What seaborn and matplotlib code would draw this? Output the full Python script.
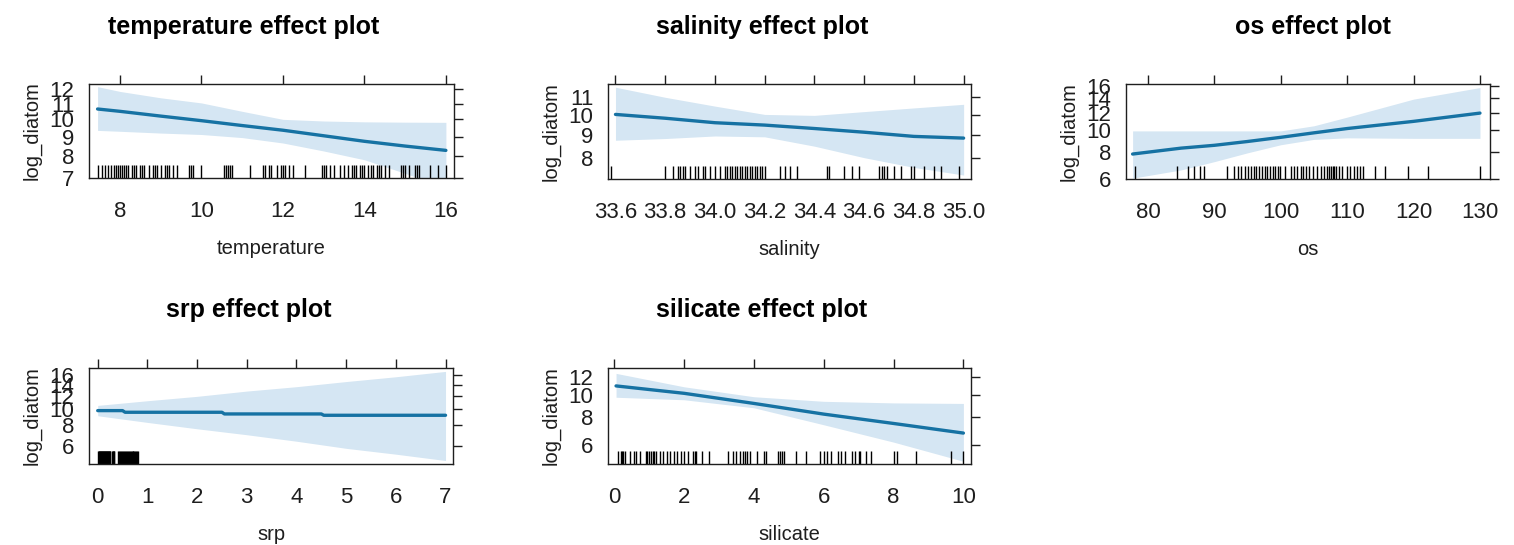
import numpy as np
import pandas as pd
import seaborn as sns
import matplotlib.pyplot as plt
from matplotlib.ticker import FixedFormatter, NullLocator

# effect curves (x grid, fit, lower / upper band)
temperature_x = [7.45, 8, 9, 10, 11, 12, 13, 14, 15, 16]
temperature_fit = [10.65, 10.5, 10.2, 9.92, 9.63, 9.36, 9.05, 8.75, 8.5, 8.28]
temperature_lower = [9.35, 9.3, 9.2, 9.12, 8.95, 8.66, 8.25, 7.82, 7.2, 6.6]
temperature_upper = [12.2, 11.85, 11.4, 11.05, 10.5, 10.0, 9.9, 9.85, 9.83, 9.82]
temperature_rug = [7.45, 7.55, 7.62, 7.7, 7.78, 7.85, 7.9, 7.95, 8.0, 8.05, 8.1, 8.15,
                   8.2, 8.3, 8.35, 8.4, 8.5, 8.55, 8.6, 8.7, 8.8, 8.85, 8.9, 9.0, 9.1,
                   9.15, 9.2, 9.3, 9.4, 9.7, 9.75, 9.8, 10.0, 10.55, 10.6, 10.65, 10.7,
                   10.75, 11.2, 11.5, 11.55, 11.65, 11.7, 11.85, 11.95, 12.0, 12.05,
                   12.15, 12.25, 12.55, 12.95, 13.0, 13.05, 13.15, 13.25, 13.4, 13.5,
                   13.6, 13.7, 13.75, 13.8, 13.9, 13.95, 14.0, 14.1, 14.15, 14.2, 14.3,
                   14.35, 14.4, 14.5, 14.6, 14.9, 14.95, 15.0, 15.1, 15.25, 15.3, 15.35,
                   15.6, 15.8, 16.0]

salinity_x = [33.6, 33.8, 34.0, 34.2, 34.4, 34.6, 34.8, 35.0]
salinity_fit = [10.05, 9.85, 9.62, 9.5, 9.33, 9.15, 8.95, 8.87]
salinity_lower = [8.77, 8.85, 8.97, 8.93, 8.5, 8.0, 7.6, 7.3]
salinity_upper = [11.6, 11.0, 10.5, 10.05, 10.0, 10.2, 10.4, 10.6]
salinity_rug = [33.58, 33.8, 33.83, 33.85, 33.86, 33.87, 33.88, 33.9, 33.92, 33.93,
                33.95, 33.96, 33.98, 34.0, 34.02, 34.04, 34.05, 34.06, 34.07, 34.08,
                34.09, 34.1, 34.11, 34.12, 34.13, 34.14, 34.15, 34.16, 34.17, 34.18,
                34.19, 34.2, 34.26, 34.28, 34.3, 34.33, 34.45, 34.46, 34.52, 34.55,
                34.58, 34.66, 34.67, 34.68, 34.69, 34.72, 34.75, 34.79, 34.8, 34.84,
                34.88, 34.91, 34.98]

os_x = [77.7, 85, 90, 95, 100, 105, 110, 120, 130]
os_fit = [7.8, 8.3, 8.55, 8.9, 9.3, 9.75, 10.2, 11.0, 12.0]
os_lower = [6.05, 6.6, 7.2, 7.9, 8.6, 9.1, 9.25, 9.2, 9.2]
os_upper = [9.95, 9.95, 9.95, 9.95, 9.95, 10.5, 11.5, 13.9, 15.7]
os_rug = [78.1, 84.4, 86.0, 86.9, 87.8, 88.5, 91.9, 93.0, 93.5, 94.0, 94.6, 95.0,
          95.5, 96.0, 96.3, 96.8, 97.2, 97.6, 98.0, 98.4, 98.8, 99.2, 99.6, 99.9,
          100.7, 101.5, 102.0, 102.5, 103.0, 103.4, 103.8, 104.2, 104.8, 105.5,
          106.0, 106.5, 107.0, 107.2, 107.5, 107.8, 108.0, 108.3, 108.8, 109.2,
          110.0, 110.5, 111.0, 111.5, 112.0, 112.4, 114.2, 115.7, 119.2, 122.2, 130.0]

srp_x = [0, 0.5, 0.55, 2.5, 2.55, 4.5, 4.55, 7.0]
srp_fit = [9.77, 9.77, 9.55, 9.55, 9.33, 9.33, 9.16, 9.16]
srp_band_x = [0, 1, 2, 3, 4, 5, 6, 7]
srp_lower = [9.1, 8.3, 7.6, 7.0, 6.4, 5.8, 5.35, 4.9]
srp_upper = [10.5, 11.2, 11.9, 12.8, 13.6, 14.6, 15.6, 16.8]
srp_rug = [0.01, 0.02, 0.03, 0.04, 0.05, 0.06, 0.07, 0.08, 0.09, 0.1, 0.11, 0.12,
           0.13, 0.14, 0.15, 0.16, 0.17, 0.18, 0.19, 0.2, 0.21, 0.22, 0.23, 0.24,
           0.25, 0.29, 0.3, 0.31, 0.32, 0.33, 0.41, 0.42, 0.44, 0.46, 0.48, 0.5,
           0.52, 0.54, 0.56, 0.58, 0.6, 0.62, 0.64, 0.66, 0.68, 0.7, 0.72, 0.74,
           0.76, 0.78, 0.8, 0.82]

silicate_x = [0.05, 2, 4, 6, 8, 10]
silicate_fit = [11.0, 10.2, 9.2, 8.25, 7.5, 6.8]
silicate_lower = [9.8, 9.55, 8.8, 7.4, 6.2, 5.1]
silicate_upper = [12.5, 10.9, 9.85, 9.4, 9.25, 9.2]
silicate_rug = [0.12, 0.18, 0.22, 0.26, 0.3, 0.45, 0.55, 0.62, 0.75, 0.9, 0.95, 1.0,
                1.05, 1.1, 1.15, 1.2, 1.3, 1.4, 1.5, 1.6, 1.7, 1.8, 1.9, 2.0, 2.1,
                2.25, 2.3, 2.35, 2.5, 2.7, 3.25, 3.4, 3.5, 3.6, 3.7, 3.75, 3.8, 3.9,
                4.1, 4.3, 4.35, 4.7, 4.75, 4.8, 4.85, 5.2, 5.5, 5.9, 6.0, 6.1, 6.2,
                6.4, 6.5, 6.6, 6.8, 6.9, 7.0, 7.05, 7.2, 7.35, 8.0, 8.1, 8.65, 9.65,
                10.0]

sns.set_style('white')
plt.rcParams['font.family'] = ['Liberation Sans', 'DejaVu Sans']

line_col = '#1672a3'
band_col = '#d5e6f3'
ink = '#1e1e1e'

fig = plt.figure(figsize=(15.14, 5.45), dpi=100)

panels = [
    # name, x, fit, band x, lower, upper, rug, xlim, ylim, xticks, yticks, rect, title xy
    ('temperature', temperature_x, temperature_fit, temperature_x, temperature_lower,
     temperature_upper, temperature_rug, (7.24, 16.2), (7.0, 12.4),
     [8, 10, 12, 14, 16], [7, 8, 9, 10, 11, 12], [0.0588, 0.6734, 0.2411, 0.1725], (244, 27)),
    ('salinity', salinity_x, salinity_fit, salinity_x, salinity_lower, salinity_upper,
     salinity_rug, (33.57, 35.03), (7.15, 11.8),
     [33.6, 33.8, 34.0, 34.2, 34.4, 34.6, 34.8, 35.0], [8, 9, 10, 11],
     [0.4016, 0.6716, 0.2398, 0.1743], (762, 27)),
    ('os', os_x, os_fit, os_x, os_lower, os_upper, os_rug, (76.7, 131.5), (6.0, 16.3),
     [80, 90, 100, 110, 120, 130], [6, 8, 10, 12, 14, 16],
     [0.7437, 0.6716, 0.2404, 0.1743], (1313, 27)),
    ('srp', srp_x, srp_fit, srp_band_x, srp_lower, srp_upper, srp_rug, (-0.175, 7.15),
     (4.67, 17.6), [0, 1, 2, 3, 4, 5, 6, 7], [6, 8, 10, 12, 14, 16],
     [0.0588, 0.1486, 0.2404, 0.1761], (249, 310)),
    ('silicate', silicate_x, silicate_fit, silicate_x, silicate_lower, silicate_upper,
     silicate_rug, (-0.18, 10.22), (4.96, 13.2), [0, 2, 4, 6, 8, 10], [6, 8, 10, 12],
     [0.4016, 0.1486, 0.2398, 0.1761], (762, 310)),
]

for (name, x, fit, bx, lo, hi, rug, xlim, ylim, xt, yt, rect, tpos) in panels:
    ax = fig.add_axes(rect)
    ax.fill_between(bx, lo, hi, color=band_col, lw=0)
    sns.lineplot(x=x, y=fit, ax=ax, color=line_col, lw=2.4)
    sns.rugplot(x=rug, ax=ax, height=0.135, color='black', lw=1.3)
    ax.set_yscale('log')
    ax.set_xlim(*xlim)
    ax.set_ylim(*ylim)
    ax.set_xticks(xt)
    if name == 'salinity':
        ax.set_xticklabels([f'{v:.1f}' for v in xt])
    else:
        ax.set_xticklabels([str(v) for v in xt])
    ax.set_yticks(yt)
    ax.yaxis.set_major_formatter(FixedFormatter([str(v) for v in yt]))
    ax.yaxis.set_minor_locator(NullLocator())
    ax.tick_params(direction='out', length=6.5, width=1, color=ink,
                   top=True, right=True, labeltop=False, labelright=False,
                   labelsize=16, labelcolor=ink)
    ax.tick_params(axis='x', pad=10)
    ax.tick_params(axis='y', pad=4)
    for s in ax.spines.values():
        s.set_color(ink)
        s.set_linewidth(1)
    ax.set_xlabel(name, fontsize=14.5, labelpad=12, color=ink)
    ax.set_ylabel('log_diatom', fontsize=14.5, labelpad=6, color=ink)
    fig.text(tpos[0] / 1514, 1 - tpos[1] / 545, f'{name} effect plot',
             ha='center', va='center', fontsize=18, fontweight='bold', color='black')

fig.savefig('out.png', dpi=100)
